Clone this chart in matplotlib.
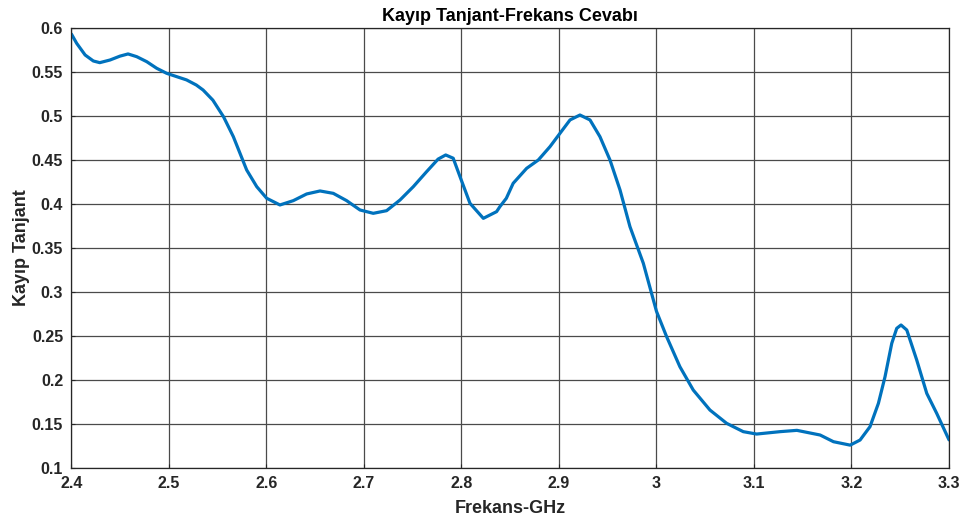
import matplotlib
matplotlib.use("Agg")
import matplotlib.pyplot as plt

plt.rcParams['font.family'] = ['Liberation Sans', 'DejaVu Sans']

# Measured loss tangent versus frequency
freq_ghz = [2.400, 2.4053, 2.414, 2.4224, 2.429, 2.4395, 2.4497, 2.458, 2.4669, 2.4772,
            2.4874, 2.4976, 2.5079, 2.518, 2.528, 2.535, 2.545, 2.556, 2.566, 2.5797,
            2.590, 2.6002, 2.6138, 2.6275, 2.6412, 2.6549, 2.6685, 2.6822, 2.6959, 2.7095,
            2.7232, 2.7369, 2.7506, 2.7642, 2.776, 2.7838, 2.7915, 2.7985, 2.8087, 2.8224,
            2.836, 2.8394, 2.846, 2.853, 2.8668, 2.8788, 2.8908, 2.901, 2.9113, 2.9215,
            2.9318, 2.942, 2.9523, 2.9626, 2.9728, 2.9865, 3.000, 3.0104, 3.024, 3.0377,
            3.0548, 3.0719, 3.089, 3.1027, 3.1266, 3.144, 3.1678, 3.1815, 3.1986, 3.2088,
            3.219, 3.2276, 3.2344, 3.2413, 3.2464, 3.2508, 3.2567, 3.2669, 3.2772, 3.2874,
            3.300]
loss_tangent = [0.593, 0.5826, 0.5693, 0.5625, 0.5606, 0.5636, 0.568, 0.5705, 0.5674, 0.5617,
                0.5542, 0.5485, 0.5447, 0.541, 0.5352, 0.5295, 0.518, 0.499, 0.4765, 0.4386,
                0.4197, 0.4065, 0.3989, 0.4038, 0.4114, 0.4148, 0.4121, 0.4038, 0.3932, 0.3894,
                0.3924, 0.4045, 0.4197, 0.4367, 0.451, 0.4557, 0.452, 0.431, 0.4008, 0.3837,
                0.3913, 0.397, 0.4065, 0.4235, 0.4405, 0.450, 0.4652, 0.4803, 0.4955, 0.5011,
                0.4955, 0.4765, 0.450, 0.4159, 0.3742, 0.3326, 0.278, 0.2492, 0.2151, 0.1886,
                0.1659, 0.1508, 0.1413, 0.1386, 0.1413, 0.1428, 0.1375, 0.1299, 0.126, 0.1318,
                0.147, 0.1735, 0.2038, 0.2417, 0.2587, 0.2625, 0.2568, 0.2227, 0.1848, 0.1621,
                0.132]

x_ticks = [2.4, 2.5, 2.6, 2.7, 2.8, 2.9, 3.0, 3.1, 3.2, 3.3]
x_tick_labels = ['2.4', '2.5', '2.6', '2.7', '2.8', '2.9', '3', '3.1', '3.2', '3.3']
y_ticks = [0.1, 0.15, 0.2, 0.25, 0.3, 0.35, 0.4, 0.45, 0.5, 0.55, 0.6]
y_tick_labels = ['0.1', '0.15', '0.2', '0.25', '0.3', '0.35', '0.4', '0.45', '0.5', '0.55', '0.6']

fig = plt.figure(figsize=(9.66, 5.21), dpi=100)
ax = fig.add_axes([0.074, 0.1017, 0.9084, 0.8446])

ax.plot(freq_ghz, loss_tangent, color='#0072BD', linewidth=2.3,
        solid_capstyle='round', solid_joinstyle='round')

ax.set_xlim(2.4, 3.3)
ax.set_ylim(0.1, 0.6)
ax.set_xticks(x_ticks)
ax.set_xticklabels(x_tick_labels)
ax.set_yticks(y_ticks)
ax.set_yticklabels(y_tick_labels)

ax.grid(True, color='#4a4a4a', linewidth=0.9)
ax.set_axisbelow(True)
for s in ax.spines.values():
    s.set_color('#262626')
    s.set_linewidth(0.9)
ax.tick_params(direction='in', length=3, color='#262626', labelcolor='#262626',
               labelsize=11.5, pad=6)
for lbl in ax.get_xticklabels() + ax.get_yticklabels():
    lbl.set_fontweight('bold')

ax.set_title('Kayıp Tanjant-Frekans Cevabı', fontsize=13, fontweight='bold',
             color='black', pad=5)
ax.set_xlabel('Frekans-GHz', fontsize=13, fontweight='bold', color='#262626', labelpad=6)
ax.set_ylabel('Kayıp Tanjant', fontsize=13, fontweight='bold', color='#262626', labelpad=1)

fig.savefig('out.png', dpi=100)
